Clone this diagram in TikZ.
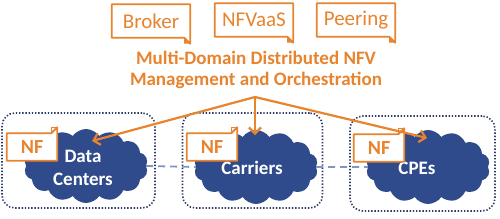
\documentclass[tikz,border=0pt]{standalone}
\usepackage{fontspec}
\setmainfont{Carlito}
\usetikzlibrary{shapes.symbols,arrows.meta}
\definecolor{orng}{HTML}{E8832E}
\definecolor{cloudblue}{HTML}{2F4B8C}
\definecolor{navy}{HTML}{2E3B66}
\definecolor{dashblue}{HTML}{7F95C4}
\tikzset{
  topbox/.style={minimum width=78pt,minimum height=33pt,inner sep=0pt,text=orng,font=\fontsize{21}{23}\selectfont},
  nfbox/.style={minimum width=50pt,minimum height=27pt,inner sep=0pt,text=orng,font=\bfseries\fontsize{20}{22}\selectfont},
  domainbox/.style={draw=navy,line width=1.6pt,dash pattern=on 1.4pt off 1.8pt,rounded corners=13pt,minimum height=95pt,inner sep=0pt},
  cloudnode/.style={cloud,cloud puffs=14,cloud puff arc=110,aspect=1.8,fill=cloudblue,draw=none,minimum width=124pt,minimum height=74pt,inner sep=0pt},
  cloudtext/.style={text=white,font=\bfseries\fontsize{19}{23}\selectfont,align=center},
  orangeline/.style={draw=orng,line width=2.2pt},
  arr/.style={orangeline,-{Straight Barb[length=6pt,width=12pt,line width=2.2pt]}},
  link/.style={draw=dashblue,line width=1.8pt,dash pattern=on 7pt off 5pt}
}
\begin{document}
\begin{tikzpicture}[x=1pt,y=-1pt]
\useasboundingbox[fill=white] (0,0) rectangle (500,218);
% domains
\node[domainbox,minimum width=153pt] (d1) at (78.5,160.5) {};
\node[domainbox,minimum width=140pt] (d2) at (252.5,160.5) {};
\node[domainbox,minimum width=145pt] (d3) at (422.5,163.5) {};
% clouds
\node[cloudnode] (dc) at (86,166) {};
\node[cloudnode] (car) at (256,167) {};
\node[cloudnode] (cpe) at (428,167) {};
\node[cloudtext] (dct) at (83,168) {Data\\Centers};
\node[cloudtext] (cart) at (252,168) {Carriers};
\node[cloudtext] (cpet) at (417,168) {CPEs};
\draw[link] (dc.east) -- (car.west);
\draw[link] (car.east) -- (cpe.west);
% NF boxes
\foreach \n/\x/\y in {nf1/32/147, nf2/212/147, nf3/379/148}{
  \node[nfbox] (\n) at (\x,\y) {};
  \fill[white] (\n.south west) -- (\n.north west) -- ([xshift=-6pt]\n.north east) -- ([yshift=6pt]\n.north east) -- (\n.south east) -- cycle;
  \draw[orangeline,line width=1.8pt,line join=round] (\n.south west) -- (\n.north west) -- ([xshift=-6pt]\n.north east) -- ([yshift=6pt]\n.north east) -- (\n.south east) -- cycle;
  \draw[orng,line width=1.2pt] ([xshift=-6pt]\n.north east) -- ([xshift=-6pt,yshift=6pt]\n.north east) -- ([yshift=6pt]\n.north east);
  \node[nfbox] at (\x,\y) {NF};
}
% top boxes
\foreach \n/\x/\y/\t in {br/151/21/Broker, nv/254/20/NFVaaS, pe/356/20/Peering}{
  \node[topbox] (\n) at (\x,\y) {\t};
  \draw[orangeline,line width=1.8pt,line join=round] (\n.north west) -- (\n.north east) -- ([yshift=-6pt]\n.south east) -- ([xshift=-6pt]\n.south east) -- (\n.south west) -- cycle;
  \fill[orng] ([yshift=-6pt]\n.south east) -- ([xshift=-6pt]\n.south east) -- ([xshift=-6pt,yshift=-6pt]\n.south east) -- cycle;
}
% title
\node[text=orng,font=\bfseries\fontsize{19}{21}\selectfont,align=center] (title) at (256,70) {Multi-Domain Distributed NFV\\Management and Orchestration};
% arrows
\coordinate (hub) at (255,97);
\coordinate (tdc) at (92,141);
\coordinate (tcar) at (255,135);
\coordinate (tcpe) at (427,138);
\draw[arr] (hub) -- (tdc);
\draw[arr] (hub) -- (tcar);
\draw[arr] (hub) -- (tcpe);
\end{tikzpicture}
\end{document}
